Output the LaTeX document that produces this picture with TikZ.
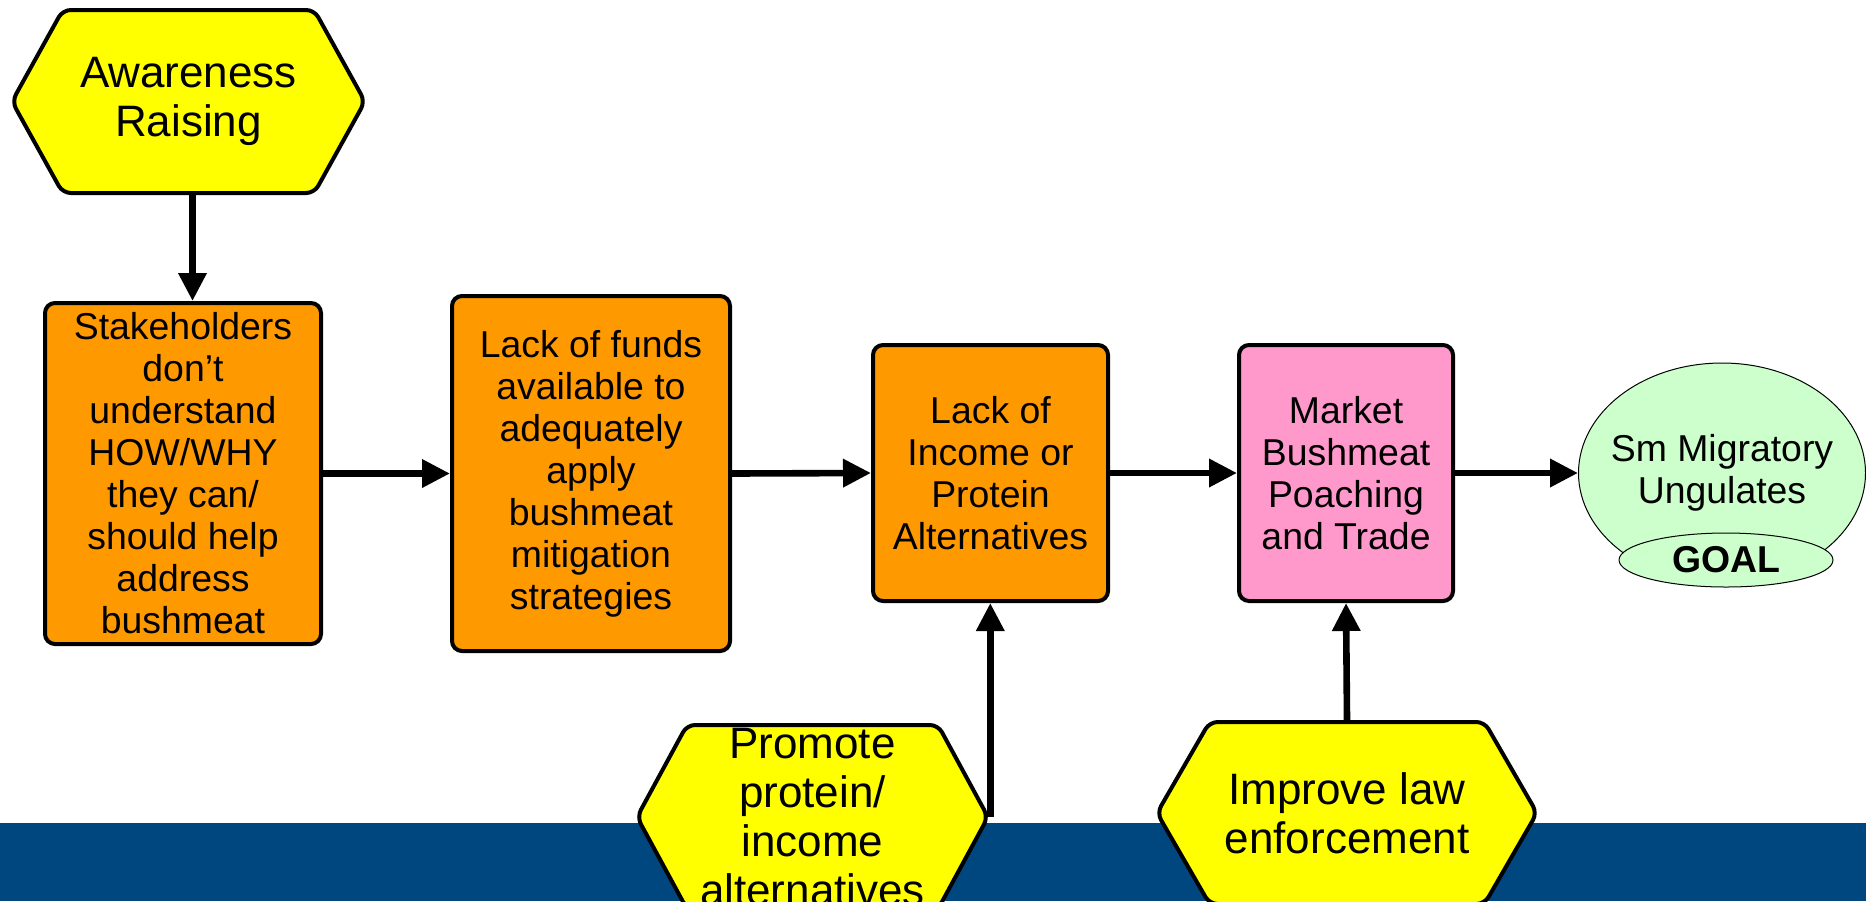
\documentclass[tikz,border=0pt]{standalone}
\usepackage{fontspec}
\setmainfont{Liberation Sans}
\usepackage{tikz}
\usetikzlibrary{shapes.symbols}
\usetikzlibrary{shapes.geometric}
\usetikzlibrary{arrows.meta}
\definecolor{boxorange}{HTML}{FF9900}
\definecolor{boxpink}{HTML}{FF99CC}
\definecolor{hexyellow}{HTML}{FFFF00}
\definecolor{goalgreen}{HTML}{CCFFCC}
\definecolor{barblue}{HTML}{00477F}
\tikzset{factor/.style={rectangle, rounded corners=5pt, draw, line width=2pt, fill=boxorange,
    inner sep=0pt, align=center, font=\fontsize{18.7}{21}\selectfont}}
\tikzset{strategy/.style={signal, signal to=west and east, draw, line width=2pt, rounded corners=4pt,
    fill=hexyellow, inner sep=0pt, align=center, font=\fontsize{22}{24.5}\selectfont}}
\tikzset{target/.style={ellipse, draw, line width=0.5pt, fill=goalgreen, inner sep=0pt,
    align=center, font=\fontsize{18.7}{21}\selectfont}}
\tikzset{arr/.style={line width=3.3pt, -{Triangle[length=14pt,width=13.5pt]}}}

\begin{document}
\begin{tikzpicture}[x=0.5pt,y=-0.5pt]
  \useasboundingbox (0,0) rectangle (1866,901);
  \fill[barblue] (0,823) rectangle (1866,901);

  \node[strategy, minimum width=176.5pt, minimum height=91.5pt, signal pointer angle=122]
    (aware) at (188.5,101.5) {Awareness\\Raising};
  \node[strategy, minimum width=175.5pt, minimum height=92pt, signal pointer angle=123]
    (promote) at (812.5,817) {Promote\\protein/\\income\\alternatives};
  \node[strategy, minimum width=190pt, minimum height=91pt, signal pointer angle=120]
    (improve) at (1347,813) {Improve law\\enforcement};

  \node[factor, minimum width=138pt, minimum height=170.5pt] (stake) at (183,473.5)
    {Stakeholders\\don’t\\understand\\HOW/WHY\\they can/\\should help\\address\\bushmeat};
  \node[factor, minimum width=139pt, minimum height=177.5pt] (funds) at (591,473.5)
    {Lack of funds\\available to\\adequately\\apply\\bushmeat\\mitigation\\strategies};
  \node[factor, minimum width=117.5pt, minimum height=128pt] (income) at (990.5,473)
    {Lack of\\Income or\\Protein\\Alternatives};
  \node[factor, fill=boxpink, minimum width=107pt, minimum height=128pt] (market) at (1346,473)
    {Market\\Bushmeat\\Poaching\\and Trade};

  \node[target, inner xsep=-7pt, minimum width=143.5pt, minimum height=110pt] (goal) at (1722,473)
    {Sm Migratory\\Ungulates};
  \node[target, minimum width=107pt, minimum height=27pt, font=\fontsize{18.7}{21}\selectfont\bfseries]
    (goallab) at (1726,560) {GOAL};

  \draw[arr] ([xshift=2pt]aware.south) -- ([xshift=2pt]aware.south |- stake.north);
  \foreach \u/\v in {stake/funds, funds/income, income/market}{
    \draw[arr] (\u.east) -- (\v.west);
  }
  \draw[arr] (market.east) -- (market.east -| goal.west);
  \draw[arr] (promote.east) -- (promote.east |- income.south);
  \draw[arr] (improve.north) -- (market.south);
\end{tikzpicture}
\end{document}
